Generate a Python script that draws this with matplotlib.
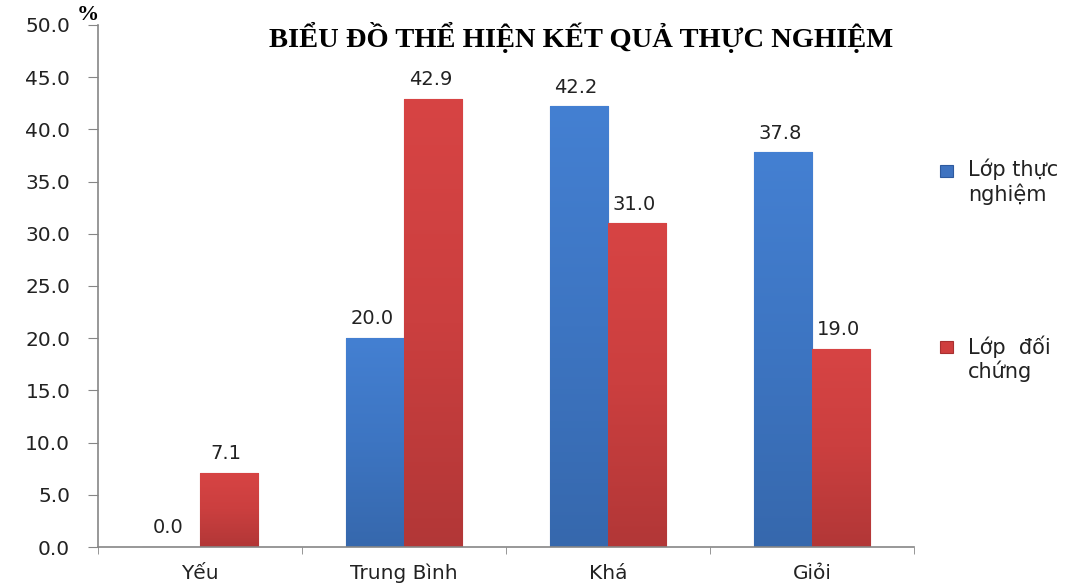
import matplotlib.pyplot as plt
from matplotlib.colors import LinearSegmentedColormap
from matplotlib.patches import Rectangle
import numpy as np

# Dữ liệu kết quả thực nghiệm (%)
categories = ['Yếu', 'Trung Bình', 'Khá', 'Giỏi']
thuc_nghiem = [0.0, 20.0, 42.2, 37.8]
doi_chung = [7.1, 42.9, 31.0, 19.0]
series_labels = ['Lớp thực\nnghiệm', 'Lớp  đối\nchứng']
yticks = np.arange(0, 50.1, 5)

plt.rcParams['font.family'] = ['DejaVu Sans']

blue = '#3F73C0'
red = '#CF3E3E'
edges = ['#2E5A9E', '#A83030']
# màu chuyển (dưới -> trên) giả hiệu ứng nổi của cột
cmap_blue = LinearSegmentedColormap.from_list('b', ['#3668AD', '#3D75C2', '#4480D2'])
cmap_red = LinearSegmentedColormap.from_list('r', ['#B23737', '#CB3F3F', '#D74444'])

fig = plt.figure(figsize=(10.91, 5.88), dpi=100)
ax = fig.add_axes([0.0898, 0.0697, 0.748, 0.888])

x = np.arange(len(categories))
w = 0.285
b1 = ax.bar(x - w / 2, thuc_nghiem, w, color=blue, edgecolor=edges[0], linewidth=0.8, zorder=2)
b2 = ax.bar(x + w / 2, doi_chung, w, color=red, edgecolor=edges[1], linewidth=0.8, zorder=2)

grad = np.linspace(0, 1, 256).reshape(-1, 1)
for bars, cmap in [(b1, cmap_blue), (b2, cmap_red)]:
    for rect in bars:
        h = rect.get_height()
        if h <= 0:
            continue
        x0 = rect.get_x()
        im = ax.imshow(grad, extent=(x0, x0 + rect.get_width(), 0, h), origin='lower',
                       cmap=cmap, aspect='auto', zorder=2.5, interpolation='bilinear')
        im.set_clip_path(rect)

# nhãn giá trị trên cột
for bars, vals in [(b1, thuc_nghiem), (b2, doi_chung)]:
    for rect, v in zip(bars, vals):
        ax.annotate(f'{v:.1f}', (rect.get_x() + rect.get_width() / 2, v),
                    xytext=(-2, 7), textcoords='offset points',
                    ha='center', va='bottom', fontsize=14, color='#222222')

ax.set_xlim(-0.5, len(categories) - 0.5)
ax.set_ylim(0, 50)
ax.set_yticks(yticks)
ax.set_yticklabels([f'{t:.1f}' for t in yticks], fontsize=14.5, color='#222222')
ax.set_xticks(x)
ax.set_xticklabels(categories, fontsize=14.5, color='#222222')
ax.set_xticks(np.arange(len(categories) + 1) - 0.5, minor=True)
ax.tick_params(axis='x', which='major', length=0, pad=12)
ax.tick_params(axis='x', which='minor', length=5, color='#868686', direction='out')
ax.tick_params(axis='y', length=7, color='#868686', direction='out', pad=13)

for s in ['top', 'right']:
    ax.spines[s].set_visible(False)
for s in ['left', 'bottom']:
    ax.spines[s].set_color('#868686')
    ax.spines[s].set_linewidth(1.2)
    ax.spines[s].set_zorder(3)

fig.text(0.533, 0.936, 'BIỂU ĐỒ THỂ HIỆN KẾT QUẢ THỰC NGHIỆM', ha='center', va='center',
         fontsize=20.5, fontweight='bold', family='Liberation Serif')
fig.text(0.081, 0.975, '%', ha='center', va='center', fontsize=16,
         fontweight='bold', family='Liberation Serif')

# chú giải: ô màu canh theo dòng đầu của nhãn
legend_y = [171, 347]
for color, ec, label, yy in zip([blue, red], edges, series_labels, legend_y):
    fig.patches.append(Rectangle((940 / 1091, 1 - (yy + 6) / 588), 13 / 1091, 12 / 588,
                                 transform=fig.transFigure, facecolor=color,
                                 edgecolor=ec, linewidth=0.8))
    fig.text(968 / 1091, 1 - (yy - 12) / 588, label, ha='left', va='top',
             fontsize=15, linespacing=1.15, color='#222222')

plt.savefig('out.png', dpi=100)
